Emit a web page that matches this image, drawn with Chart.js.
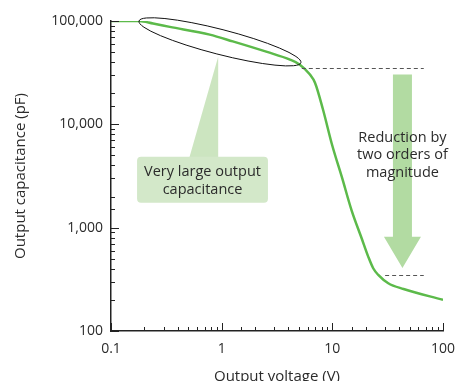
<!DOCTYPE html>
<html>
<head>
<meta charset="utf-8">
<script src="https://cdn.jsdelivr.net/npm/chart.js@4"></script>
<style>
  html, body { margin: 0; padding: 0; background: #fff; }
  #wrap { width: 457px; height: 381px; }
</style>
</head>
<body>
<div id="wrap"><canvas id="chart"></canvas></div>
<script>
// values
const voltage = [0.1, 0.18, 0.24, 0.34, 0.78, 1.26, 2.57, 4.14, 5.09, 6.28, 6.97, 8.22, 10.0, 12.2, 14.9, 18.4, 21.1, 23.4, 26.0, 32.0, 44.0, 100];
const capacitance = [100000, 100000, 94400, 87700, 73800, 63500, 50200, 42300, 37800, 30300, 25300, 14000, 6200, 3080, 1480, 790, 525, 405, 349, 290, 255, 200];
const xDecades = [0.1, 1, 10, 100];
const yDecades = [100, 1000, 10000, 100000];

const upperLevel = 35000;   // dashed line before drop
const lowerLevel = 350;     // dashed line after drop

const green = '#5cba4a';
const textColor = '#2b2b2b';
const fontFamily = '"Open Sans", "Noto Sans", sans-serif';

function isDecade(v, list) {
    return list.some(d => Math.abs(v - d) / d < 1e-6);
}

// inward tick marks + annotations
const annotations = {
    id: 'annotations',
    afterDatasetsDraw(chart) {
        const ctx = chart.ctx;
        const x = chart.scales.x, y = chart.scales.y;
        const area = chart.chartArea;
        ctx.save();

        // ticks pointing inside
        ctx.strokeStyle = '#222';
        ctx.lineWidth = 1;
        ctx.beginPath();
        x.ticks.forEach(t => {
            const px = Math.round(x.getPixelForValue(t.value)) + 0.5;
            const len = isDecade(t.value, xDecades) ? 8 : 4;
            ctx.moveTo(px, area.bottom);
            ctx.lineTo(px, area.bottom - len);
        });
        y.ticks.forEach(t => {
            const py = Math.round(y.getPixelForValue(t.value)) + 0.5;
            const len = isDecade(t.value, yDecades) ? 8 : 4;
            ctx.moveTo(area.left, py);
            ctx.lineTo(area.left + len, py);
        });
        ctx.stroke();

        // big arrow
        const ax = x.getPixelForValue(43);
        const aTop = y.getPixelForValue(30300);
        const aNeck = y.getPixelForValue(815);
        const aTip = y.getPixelForValue(408);
        ctx.fillStyle = '#b2dba2';
        ctx.beginPath();
        ctx.moveTo(ax - 9.5, aTop);
        ctx.lineTo(ax + 9.5, aTop);
        ctx.lineTo(ax + 9.5, aNeck);
        ctx.lineTo(ax + 18.5, aNeck);
        ctx.lineTo(ax, aTip);
        ctx.lineTo(ax - 18.5, aNeck);
        ctx.lineTo(ax - 9.5, aNeck);
        ctx.closePath();
        ctx.fill();

        ctx.fillStyle = textColor;
        ctx.font = '14.5px ' + fontFamily;
        ctx.textAlign = 'center';
        ctx.textBaseline = 'middle';
        const ty = y.getPixelForValue(7400);
        ['Reduction by', 'two orders of', 'magnitude'].forEach((s, i) => {
            ctx.fillText(s, ax, ty + i * 17.5);
        });

        // dashed levels
        ctx.strokeStyle = '#555';
        ctx.setLineDash([4, 3]);
        ctx.beginPath();
        let py = Math.round(y.getPixelForValue(upperLevel)) + 0.5;
        ctx.moveTo(x.getPixelForValue(5.3), py);
        ctx.lineTo(x.getPixelForValue(67), py);
        py = Math.round(y.getPixelForValue(lowerLevel)) + 0.5;
        ctx.moveTo(x.getPixelForValue(30), py);
        ctx.lineTo(x.getPixelForValue(67), py);
        ctx.stroke();
        ctx.setLineDash([]);

        // callout box with pointer
        const bl = x.getPixelForValue(0.172), br = x.getPixelForValue(2.62);
        const bt = y.getPixelForValue(4850), bb = y.getPixelForValue(1740);
        ctx.fillStyle = '#cce5c0';
        ctx.beginPath();
        ctx.moveTo(x.getPixelForValue(0.93), y.getPixelForValue(45000));
        ctx.lineTo(x.getPixelForValue(0.93), bt + 2);
        ctx.lineTo(x.getPixelForValue(0.507), bt + 2);
        ctx.closePath();
        ctx.fill();
        ctx.fillStyle = '#d3e8c9';
        ctx.beginPath();
        ctx.roundRect(bl, bt, br - bl, bb - bt, 4);
        ctx.fill();
        ctx.fillStyle = textColor;
        const bc = (bl + br) / 2;
        ctx.fillText('Very large output', bc, bt + 15);
        ctx.fillText('capacitance', bc, bt + 33);

        // ellipse around the flat part
        const e1x = x.getPixelForValue(0.179), e1y = y.getPixelForValue(100000);
        const e2x = x.getPixelForValue(5.2), e2y = y.getPixelForValue(39500);
        const cx = (e1x + e2x) / 2, cy = (e1y + e2y) / 2;
        const rx = Math.hypot(e2x - e1x, e2y - e1y) / 2;
        ctx.strokeStyle = '#111';
        ctx.lineWidth = 1;
        ctx.beginPath();
        ctx.ellipse(cx, cy, rx, 12.5, Math.atan2(e2y - e1y, e2x - e1x), 0, Math.PI * 2);
        ctx.stroke();

        ctx.restore();
    }
};

new Chart(document.getElementById('chart'), {
    type: 'line',
    data: {
        datasets: [{
            data: voltage.map((v, i) => ({ x: v, y: capacitance[i] })),
            borderColor: green,
            borderWidth: 2.5,
            pointRadius: 0,
            fill: false,
            cubicInterpolationMode: 'monotone'
        }]
    },
    options: {
        responsive: true,
        maintainAspectRatio: false,
        animation: false,
        layout: { padding: { top: 21, right: 14, left: 0, bottom: 0 } },
        plugins: {
            legend: { display: false },
            tooltip: { enabled: false }
        },
        scales: {
            x: {
                type: 'logarithmic',
                min: 0.1,
                max: 100,
                grid: { display: false, drawTicks: false },
                border: { display: true, color: '#222', width: 1.5 },
                ticks: {
                    autoSkip: false,
                    maxRotation: 0,
                    padding: 10,
                    color: textColor,
                    font: { family: fontFamily, size: 14 },
                    callback: v => isDecade(v, xDecades) ? String(v) : ''
                },
                title: {
                    display: true,
                    text: 'Output voltage (V)',
                    color: textColor,
                    font: { family: fontFamily, size: 15 },
                    padding: { top: 4, bottom: -5 }
                },
                afterFit: s => { s.height = 50; s.paddingLeft = 0; s.paddingRight = 0; }
            },
            y: {
                type: 'logarithmic',
                min: 100,
                max: 100000,
                grid: { display: false, drawTicks: false },
                border: { display: true, color: '#222', width: 1.5 },
                ticks: {
                    autoSkip: false,
                    padding: 8,
                    color: textColor,
                    font: { family: fontFamily, size: 14 },
                    callback: v => isDecade(v, yDecades) ? v.toLocaleString('en-US') : ''
                },
                title: {
                    display: true,
                    text: 'Output capacitance (pF)',
                    color: textColor,
                    font: { family: fontFamily, size: 15 },
                    padding: { top: 12, bottom: 0 }
                },
                afterFit: s => { s.width = 111; s.paddingTop = 0; s.paddingBottom = 0; }
            }
        }
    },
    plugins: [annotations]
});
</script>
</body>
</html>
